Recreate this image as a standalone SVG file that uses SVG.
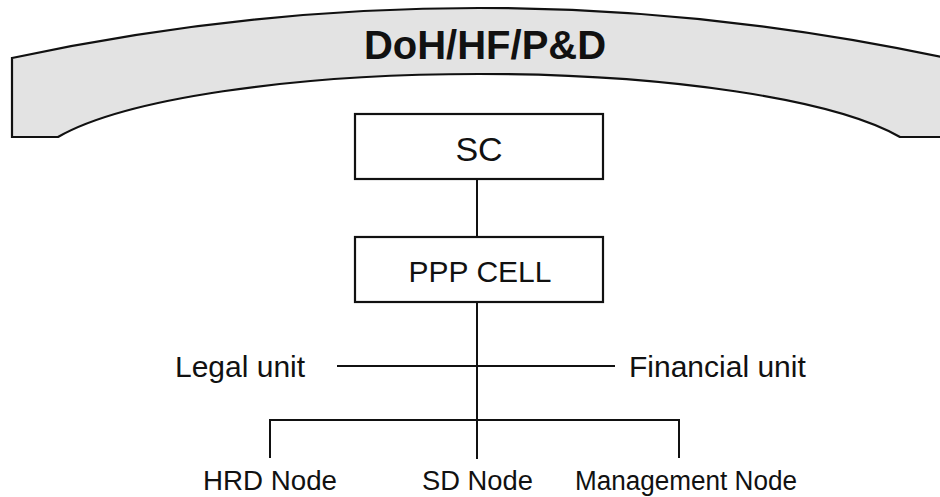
<svg xmlns="http://www.w3.org/2000/svg" width="940" height="497" viewBox="0 0 940 497">
  <style>
    .ln { stroke: #111; stroke-width: 2; fill: none; }
    .box { stroke: #111; stroke-width: 2.2; fill: #fff; }
    .t { font-family: "Liberation Sans", Arial, sans-serif; fill: #111; }
  </style>
  <rect width="940" height="497" fill="#fff"/>
  <g id="arch">
    <path d="M12,137 L12,58 Q479,-42 946,58 L946,137 L900,137 A450,97.4 0 0 0 58,137 Z" fill="#e3e3e3" stroke="#111" stroke-width="2.2" stroke-linejoin="miter"/>
    <text class="t" x="485" y="59" font-size="40" font-weight="bold" text-anchor="middle">DoH/HF/P&amp;D</text>
  </g>
  <g id="connectors">
    <line class="ln" x1="477" y1="179" x2="477" y2="237"/>
    <line class="ln" x1="477" y1="302" x2="477" y2="459"/>
    <line class="ln" x1="337" y1="366" x2="615" y2="366"/>
    <polyline class="ln" points="270,458 270,420 679,420 679,458"/>
  </g>
  <g id="sc">
    <rect class="box" x="355" y="114" width="248" height="65"/>
    <text class="t" x="479" y="161" font-size="34" text-anchor="middle">SC</text>
  </g>
  <g id="ppp-cell">
    <rect class="box" x="355" y="237" width="248" height="65"/>
    <text class="t" x="480" y="282" font-size="30" text-anchor="middle">PPP CELL</text>
  </g>
  <g id="legal-unit">
    <text class="t" x="175" y="377" font-size="30">Legal unit</text>
  </g>
  <g id="financial-unit">
    <text class="t" x="629" y="377" font-size="30">Financial unit</text>
  </g>
  <g id="hrd-node">
    <text class="t" x="203" y="490" font-size="27" textLength="134" lengthAdjust="spacingAndGlyphs">HRD Node</text>
  </g>
  <g id="sd-node">
    <text class="t" x="422" y="490" font-size="27" textLength="111" lengthAdjust="spacingAndGlyphs">SD Node</text>
  </g>
  <g id="management-node">
    <text class="t" x="575" y="490" font-size="27" textLength="222" lengthAdjust="spacingAndGlyphs">Management Node</text>
  </g>
</svg>
